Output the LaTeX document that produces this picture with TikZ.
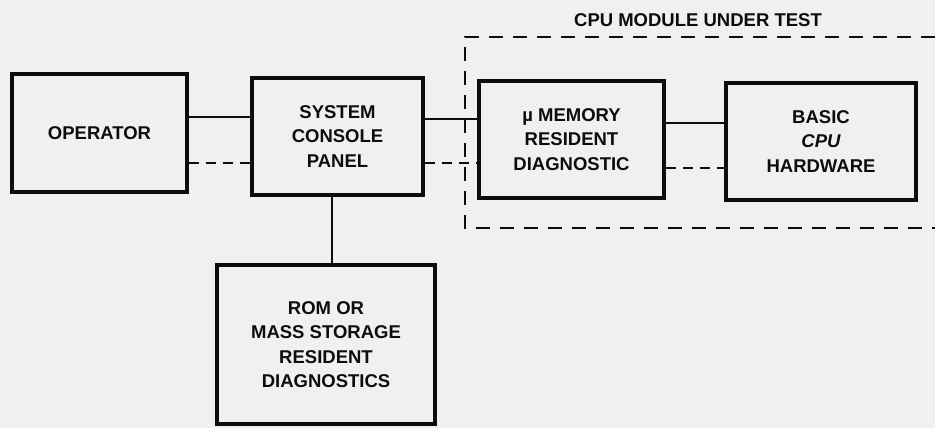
\documentclass[tikz,border=0pt]{standalone}
\usepackage{fontspec}
\setmainfont{Liberation Sans}
\begin{document}
\begin{tikzpicture}[x=1pt,y=-1pt,
  blk/.style={draw=black!95, line width=3.2pt, inner sep=0pt, align=center,
    font=\fontsize{18.5}{24.5}\selectfont\bfseries, text=black!95},
  wire/.style={draw=black!95, line width=2.5pt},
  dwire/.style={wire, dash pattern=on 10pt off 7pt},
  bnd/.style={draw=black!95, line width=2.8pt, dash pattern=on 14pt off 10pt}]
\fill[black!6] (0,0) rectangle (935,428);
\useasboundingbox (0,0) rectangle (935,428);
\node[blk, minimum width=175pt, minimum height=118pt] (op) at (99.5,133) {OPERATOR};
\node[blk, minimum width=171pt, minimum height=117pt] (con) at (337.5,136.5) {SYSTEM\\CONSOLE\\PANEL};
\node[blk, minimum width=185pt, minimum height=117pt] (mem) at (571.5,139.5) {µ MEMORY\\RESIDENT\\DIAGNOSTIC};
\node[blk, minimum width=190pt, minimum height=117pt] (cpu) at (821,141.5) {BASIC\\{\itshape CPU}\\HARDWARE};
\node[blk, minimum width=218pt, minimum height=159pt] (rom) at (326,344.5) {ROM OR\\MASS STORAGE\\RESIDENT\\DIAGNOSTICS};
\node[font=\fontsize{18.5}{20}\selectfont\bfseries, text=black!95] (title) at (698,20) {CPU MODULE UNDER TEST};
\coordinate (b1) at (935,37);
\coordinate (b2) at (465,37);
\coordinate (b3) at (465,228);
\coordinate (b4) at (935,228);
\draw[bnd] (b1) -- (b2) -- (b3) -- (b4);
\draw[wire] ([yshift=16pt]op.east) -- ([yshift=16pt]op.east -| con.west);
\draw[dwire] ([yshift=-30pt]op.east) -- ([yshift=-30pt]op.east -| con.west);
\draw[wire] ([yshift=17.5pt]con.east) -- ([yshift=17.5pt]con.east -| mem.west);
\draw[dwire] ([yshift=-26.5pt]con.east) -- ([yshift=-26.5pt]con.east -| mem.west);
\draw[wire] ([yshift=16.5pt]mem.east) -- ([yshift=16.5pt]mem.east -| cpu.west);
\draw[dwire] ([yshift=-28.5pt]mem.east) -- ([yshift=-28.5pt]mem.east -| cpu.west);
\draw[wire] ([xshift=-5.5pt]con.south) -- ([xshift=-5.5pt]con.south |- rom.north);
\end{tikzpicture}
\end{document}
